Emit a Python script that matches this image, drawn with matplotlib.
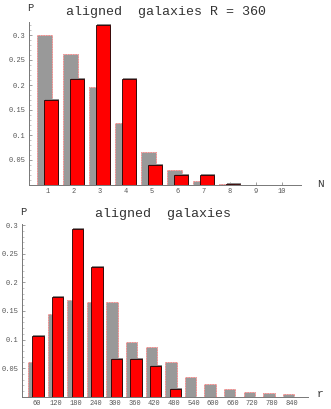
import numpy as np
import matplotlib
matplotlib.use("Agg")
import matplotlib.pyplot as plt
import matplotlib.patheffects as pe
from matplotlib.ticker import MultipleLocator

# top panel: number of aligned galaxies N
n_labels = ["1", "2", "3", "4", "5", "6", "7", "8", "9", "10"]
n_gray = [0.300, 0.263, 0.196, 0.125, 0.066, 0.031, 0.008, 0.003, 0.001, 0.0006]
n_red = [0.170, 0.212, 0.320, 0.212, 0.041, 0.020, 0.020, 0.0015, 0.0, 0.0]

# bottom panel: distance r
r_labels = ["60", "120", "180", "240", "300", "360", "420", "480",
            "540", "600", "660", "720", "780", "840"]
r_gray = [0.061, 0.145, 0.169, 0.166, 0.166, 0.095, 0.087, 0.060,
          0.034, 0.022, 0.013, 0.0076, 0.0064, 0.004]
r_red = [0.107, 0.174, 0.294, 0.227, 0.066, 0.066, 0.054, 0.013,
         0, 0, 0, 0, 0, 0]

GRAY = "#999999"
PINK = "#ff8080"
MONO = "Liberation Mono"
TICKC = "#555555"

fig = plt.figure(figsize=(3.31, 4.09), dpi=100)


def panel(rect, labels, gray, red, goff, roff, width, ylim, xlim, yticks):
    ax = fig.add_axes(rect)
    x = np.arange(1, len(labels) + 1)
    ax.bar(x + goff, gray, width=width, color=GRAY, edgecolor=PINK,
           linewidth=0.6, linestyle=(0, (2, 1)), zorder=2)
    bars = ax.bar(x + roff, red, width=width, color="#ff0000",
                  edgecolor="#200000", linewidth=0.6, zorder=3)
    for b, v in zip(bars, red):
        if v <= 0:
            b.set_visible(False)
        else:
            b.set_path_effects([pe.SimplePatchShadow(offset=(0.7, 0.7),
                                                     shadow_rgbFace="#8a8a8a",
                                                     alpha=1.0),
                                pe.Normal()])
    ax.set_xlim(*xlim)
    ax.set_ylim(*ylim)
    ax.set_xticks(x)
    ax.set_xticklabels(labels)
    ax.set_yticks(yticks)
    ax.set_yticklabels([("%g" % t) for t in yticks])
    ax.yaxis.set_minor_locator(MultipleLocator(0.01))
    for s in ["top", "right"]:
        ax.spines[s].set_visible(False)
    for s in ["left", "bottom"]:
        ax.spines[s].set_color("#777777")
        ax.spines[s].set_linewidth(0.7)
    ax.tick_params(axis="both", which="major", direction="in", length=2.5,
                   width=0.5, color="#777777", labelsize=5,
                   labelcolor=TICKC, pad=2.5)
    ax.tick_params(axis="y", which="minor", direction="in", length=1.2,
                   width=0.4, color="#999999")
    for t in ax.get_xticklabels() + ax.get_yticklabels():
        t.set_family(MONO)
    ax.patch.set_alpha(0)
    return ax


panel([29 / 331, 224 / 409, 272 / 331, 163.3 / 409], n_labels, n_gray, n_red,
      -0.12, 0.12, 0.56, (0, 0.3266), (0.28, 10.74),
      [0.05, 0.1, 0.15, 0.2, 0.25, 0.3])
panel([21.7 / 331, 12.3 / 409, 286.3 / 331, 172.7 / 409], r_labels, r_gray, r_red,
      -0.15, 0.07, 0.58, (0, 0.302), (0.235, 14.84),
      [0.05, 0.1, 0.15, 0.2, 0.25, 0.3])

fig.text(166.5 / 331, 1 - 11.7 / 409, "aligned  galaxies R = 360", family=MONO,
         fontsize=9.6, ha="center", va="center", color="#333333")
fig.text(163 / 331, 1 - 214 / 409, "aligned  galaxies", family=MONO,
         fontsize=9.6, ha="center", va="center", color="#333333")
fig.text(30 / 331, 1 - 8 / 409, "P", family=MONO, fontsize=7.5,
         ha="center", va="center", color="#333333")
fig.text(23 / 331, 1 - 211.7 / 409, "P", family=MONO, fontsize=7.5,
         ha="center", va="center", color="#333333")
fig.text(320 / 331, 1 - 184 / 409, "N", family=MONO, fontsize=8,
         ha="center", va="center", color="#333333")
fig.text(320 / 331, 1 - 394 / 409, "r", family=MONO, fontsize=8,
         ha="center", va="center", color="#333333")

fig.savefig("out.png", dpi=100)
